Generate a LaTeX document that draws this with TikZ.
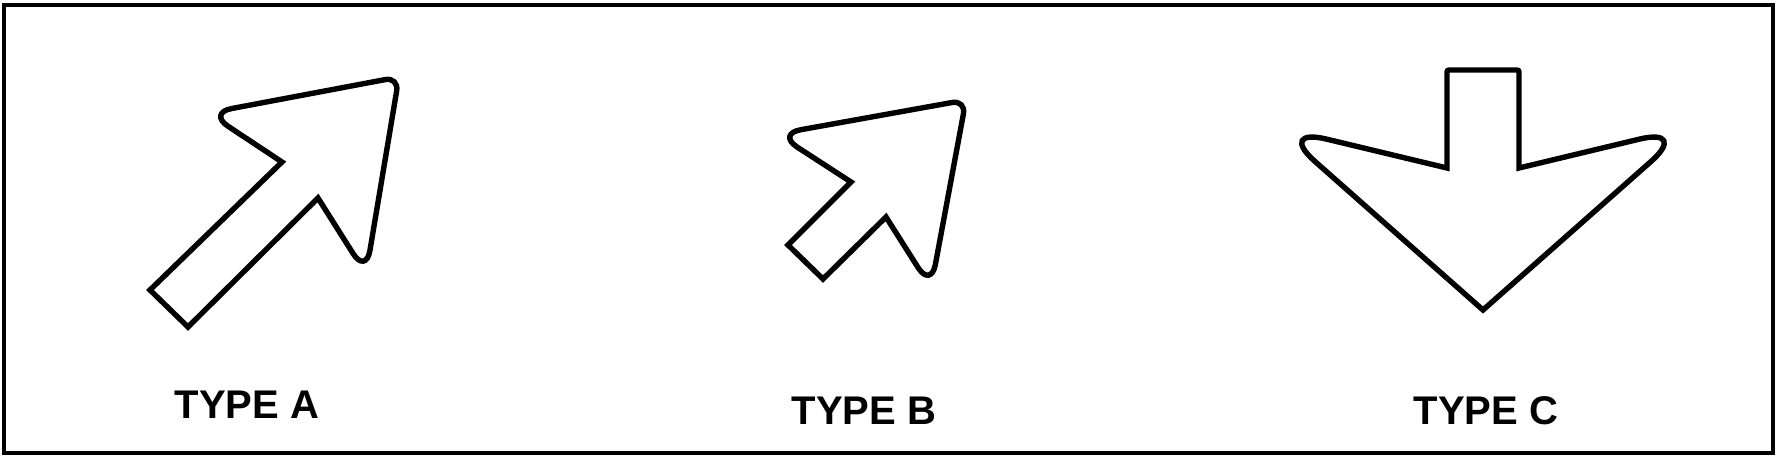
\documentclass[tikz,border=0pt]{standalone}
\usepackage{fontspec}
\setmainfont{Liberation Sans}

\begin{document}
\begin{tikzpicture}[x=0.5pt,y=-0.5pt,
        arrowline/.style={line width=2.7pt},
        typelabel/.style={anchor=base,inner sep=0pt,font=\fontsize{20}{20}\selectfont\bfseries}]
        \useasboundingbox (0,0) rectangle (1778,460);
        \draw[line width=1.6pt] (4,5) rectangle (1773,453);

        % type A
        \draw[arrowline] (150,290) -- (282,162)
            [rounded corners=12pt] -- (208,113)
            [rounded corners=7pt] -- (399,77)
            [rounded corners=12pt] -- (366,274)
            [sharp corners] -- (318,198) -- (188,327) -- cycle;
        \node[typelabel] (labA) at (247,418) {TYPE A};

        % type B
        \draw[arrowline] (788,245) -- (851,182)
            [rounded corners=12pt] -- (777,134)
            [rounded corners=7pt] -- (966,100)
            [rounded corners=12pt] -- (931,288)
            [sharp corners] -- (886,217) -- (823,279) -- cycle;
        \node[typelabel] (labB) at (864,424) {TYPE B};

        % type C
        \draw[arrowline] (1447,168) [rounded corners=1pt] -- (1447,70) -- (1519,70)
            [sharp corners] -- (1519,168)
            [rounded corners=26pt] -- (1690,127)
            [sharp corners] -- (1483,310)
            [rounded corners=26pt] -- (1276,127)
            [sharp corners] -- cycle;
        \node[typelabel] (labC) at (1486,424) {TYPE C};

    \end{tikzpicture}
\end{document}
